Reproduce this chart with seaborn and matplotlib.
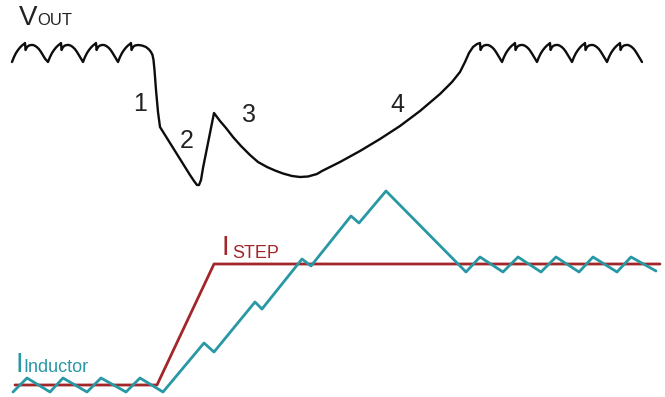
import numpy as np
import pandas as pd
import matplotlib
matplotlib.use("Agg")
import matplotlib.pyplot as plt
import seaborn as sns

sns.set_style("white")
plt.rcParams["font.family"] = ["Liberation Sans", "DejaVu Sans"]

# ---- waveform data (drawing units, y grows downward) ----
# one output-voltage ripple period, offsets from its valley
RIPPLE_DX = [0, 2, 4, 6, 8, 10, 12, 13, 13.6, 15, 17, 19, 21, 23, 25, 27, 29, 31, 33, 35]
RIPPLE_Y = [62, 57, 53, 50, 47.5, 45.5, 44, 43, 50, 47, 45.5, 45, 45, 45.8, 47.2, 49.2, 52, 55.2, 58.6, 62]

# steady-state ripple valleys before and after the load step
VOUT_PRE_VALLEYS = [12, 48, 83]
VOUT_POST_VALLEYS = [467, 502, 537, 572, 607]

# transient: droop (1), ESR/ESL dip (2), recovery (3), slow return (4)
VOUT_TRANSIENT_X = [118, 120, 122, 124, 126, 128, 130, 131, 131.6, 133, 135, 138, 142,
                    146, 149, 151, 152.5, 153.5, 154.5, 156, 158, 160,
                    175, 190, 194, 197, 199, 201, 203, 214,
                    220, 226, 233, 241, 250, 258, 267, 275, 283, 292, 300, 308, 317, 322,
                    340, 360, 380, 400, 420, 440, 452, 460, 465, 469, 473, 477, 480]
VOUT_TRANSIENT_Y = [62, 57, 53, 50, 47.5, 45.5, 44, 43, 50, 47, 45.5, 45, 45.5,
                    47, 49.5, 52, 55, 60, 70, 90, 112, 127,
                    151, 175, 181, 185, 185, 180, 168, 113,
                    121, 128, 137, 146, 155, 162, 167, 170.5, 173.5, 176, 177, 176.5, 174, 171,
                    162, 151, 139, 126, 111, 94, 82, 72, 62, 53, 47, 44, 43]

# inductor current
IND_X = [13, 27, 50, 63, 87, 101, 126, 140, 163, 204, 214, 255, 262, 302, 311, 351, 359, 386,
         466, 480, 503, 518, 541, 556, 579, 593, 617, 631, 656]
IND_Y = [392, 378, 392, 378, 392, 378, 392, 378, 392, 343, 352, 302, 309, 259, 266, 216, 223, 191,
         272, 257, 272, 257, 272, 257, 272, 257, 272, 257, 271]

# load current step
STEP_X = [15, 157, 214, 660]
STEP_Y = [385, 385, 264, 264]

# region labels
REGION_LABELS = ["1", "2", "3", "4"]
REGION_X = [140, 187, 249, 397]
REGION_Y = [111, 148, 122, 112]

BLACK = "#0d0d0d"
TEAL = "#2898a4"
RED = "#a3262b"

# ---- assemble the output-voltage trace ----
vx, vy = [], []
for v in VOUT_PRE_VALLEYS:
    vx += [v + d for d in RIPPLE_DX[:-1]]
    vy += RIPPLE_Y[:-1]
vx += VOUT_TRANSIENT_X
vy += VOUT_TRANSIENT_Y
notch = RIPPLE_DX.index(13)
for i, v in enumerate(VOUT_POST_VALLEYS):
    start = notch + 1 if i == 0 else 1
    vx += [v + d for d in RIPPLE_DX[start:]]
    vy += RIPPLE_Y[start:]

vout = pd.DataFrame({"x": vx, "y": vy})
ind = pd.DataFrame({"x": IND_X, "y": IND_Y})
step = pd.DataFrame({"x": STEP_X, "y": STEP_Y})

fig = plt.figure(figsize=(6.65, 3.97), dpi=100)
ax = fig.add_axes([0, 0, 1, 1])

sns.lineplot(data=vout, x="x", y="y", sort=False, estimator=None, color=BLACK,
             lw=1.7, ax=ax)
sns.lineplot(data=step, x="x", y="y", sort=False, estimator=None, color=RED,
             lw=2.0, ax=ax)
sns.lineplot(data=ind, x="x", y="y", sort=False, estimator=None, color=TEAL,
             lw=2.0, ax=ax)

for lab, x, y in zip(REGION_LABELS, REGION_X, REGION_Y):
    ax.text(x, y, lab, fontsize=18, color="#222222", ha="center", va="baseline")

# signal names with subscripts
ax.text(19, 25, "V", fontsize=20, color="#222222", ha="left", va="baseline")
ax.text(37, 25, "OUT", fontsize=12, color="#222222", ha="left", va="baseline")
ax.text(222, 255, "I", fontsize=20, color=RED, ha="left", va="baseline")
ax.text(232, 258, "STEP", fontsize=13, color=RED, ha="left", va="baseline")
ax.text(15, 372, "I", fontsize=20, color=TEAL, ha="left", va="baseline")
ax.text(23, 372, "Inductor", fontsize=13, color=TEAL, ha="left", va="baseline")

ax.set_xlim(0, 665)
ax.set_ylim(397, 0)
ax.axis("off")

fig.savefig("out.png", dpi=100)
